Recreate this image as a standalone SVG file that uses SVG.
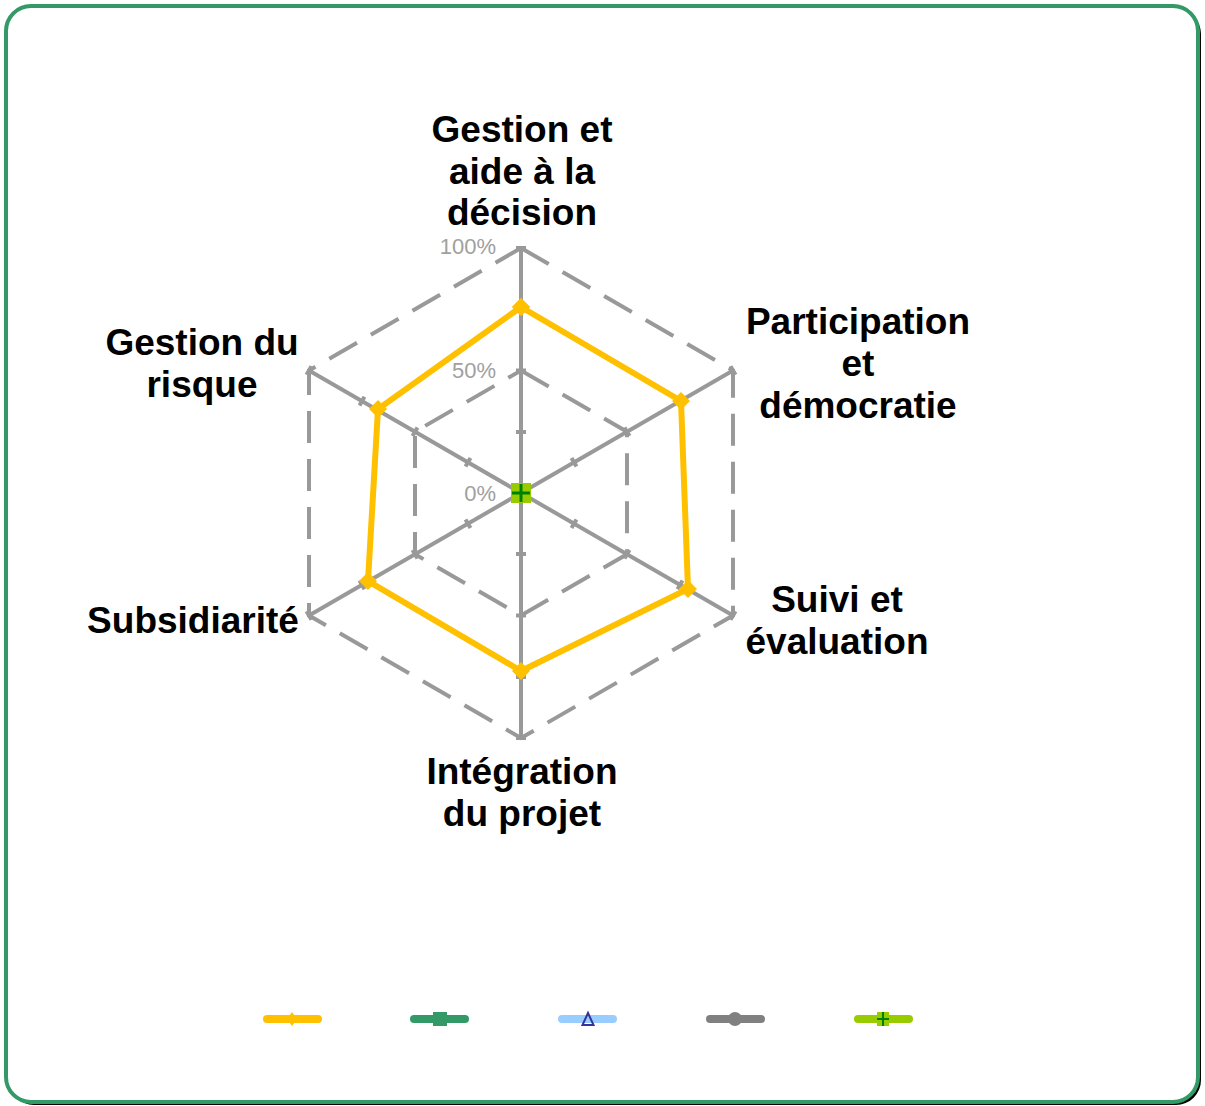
<svg xmlns="http://www.w3.org/2000/svg" width="1205" height="1106" viewBox="0 0 1205 1106">
<style>
.lbl{font-family:"Liberation Sans",Arial,sans-serif;font-weight:bold;font-size:37px;fill:#000;text-anchor:middle}
.pct{font-family:"Liberation Sans",Arial,sans-serif;font-size:22px;fill:#A0A0A0;text-anchor:end}
.ring{fill:none;stroke:#999999;stroke-width:4;stroke-dasharray:32 16}
.axis{stroke:#999999;stroke-width:4}
.tick{stroke:#999999;stroke-width:4}
.leg{stroke-width:8;stroke-linecap:round}
</style>
<defs>
<marker id="dia" viewBox="-9 -9 18 18" markerWidth="18" markerHeight="18" markerUnits="userSpaceOnUse">
<path d="M0,-9 L9,0 L0,9 L-9,0 Z" fill="#FFC000"/>
</marker>
</defs>
<rect x="9" y="9" width="1192" height="1096" rx="25" fill="#000"/>
<rect x="6" y="6" width="1192" height="1096" rx="25" fill="#fff" stroke="#339966" stroke-width="4"/>
<g id="grid">
<polygon class="ring" points="521,248 733,370.5 733,615.5 521,738 309,615.5 309,370.5"/>
<polygon class="ring" points="521,370.5 627,431.75 627,554.25 521,615.5 415,554.25 415,431.75"/>
<g class="axis">
<line x1="521" y1="493" x2="521" y2="248"/>
<line x1="521" y1="493" x2="733" y2="370.5"/>
<line x1="521" y1="493" x2="733" y2="615.5"/>
<line x1="521" y1="493" x2="521" y2="738"/>
<line x1="521" y1="493" x2="309" y2="615.5"/>
<line x1="521" y1="493" x2="309" y2="370.5"/>
</g>
<g class="tick">
<line x1="516" y1="432" x2="526" y2="432"/><line x1="516" y1="370.5" x2="526" y2="370.5"/><line x1="516" y1="309" x2="526" y2="309"/><line x1="516" y1="248" x2="526" y2="248"/>
<line x1="516" y1="554" x2="526" y2="554"/><line x1="516" y1="615.5" x2="526" y2="615.5"/><line x1="516" y1="677" x2="526" y2="677"/><line x1="516" y1="738" x2="526" y2="738"/>
<line x1="571.5" y1="458" x2="576.5" y2="466.6"/><line x1="624.5" y1="427.4" x2="629.5" y2="436"/><line x1="677.5" y1="396.8" x2="682.5" y2="405.4"/><line x1="730.5" y1="366.2" x2="735.5" y2="374.8"/>
<line x1="571.5" y1="528" x2="576.5" y2="519.4"/><line x1="624.5" y1="558.6" x2="629.5" y2="550"/><line x1="677.5" y1="589.2" x2="682.5" y2="580.6"/><line x1="730.5" y1="619.8" x2="735.5" y2="611.2"/>
<line x1="470.5" y1="458" x2="465.5" y2="466.6"/><line x1="417.5" y1="427.4" x2="412.5" y2="436"/><line x1="364.5" y1="396.8" x2="359.5" y2="405.4"/><line x1="311.5" y1="366.2" x2="306.5" y2="374.8"/>
<line x1="470.5" y1="528" x2="465.5" y2="519.4"/><line x1="417.5" y1="558.6" x2="412.5" y2="550"/><line x1="364.5" y1="589.2" x2="359.5" y2="580.6"/><line x1="311.5" y1="619.8" x2="306.5" y2="611.2"/>
</g>
<text class="pct" x="496" y="254">100%</text>
<text class="pct" x="496" y="378">50%</text>
<text class="pct" x="496" y="501">0%</text>
</g>
<g id="series-yellow">
<polygon points="521,307 681,401 688,589 521,671 368,581 378,409" fill="none" stroke="#FFC000" stroke-width="6" stroke-linejoin="miter" marker-start="url(#dia)" marker-mid="url(#dia)" marker-end="url(#dia)"/>
</g>
<g id="series-green-center">
<rect x="511" y="483" width="20" height="20" fill="#99CC00"/>
<path d="M512,493 H530 M521,484 V502" stroke="#008000" stroke-width="3"/>
</g>
<g id="label-top"><text class="lbl" x="522" y="142">Gestion et</text><text class="lbl" x="522" y="184">aide à la</text><text class="lbl" x="522" y="225">décision</text></g>
<g id="label-ur"><text class="lbl" x="858" y="334">Participation</text><text class="lbl" x="858" y="376">et</text><text class="lbl" x="858" y="418">démocratie</text></g>
<g id="label-lr"><text class="lbl" x="837" y="612">Suivi et</text><text class="lbl" x="837" y="654">évaluation</text></g>
<g id="label-bottom"><text class="lbl" x="522" y="784">Intégration</text><text class="lbl" x="522" y="826">du projet</text></g>
<g id="label-ll"><text class="lbl" x="193" y="633">Subsidiarité</text></g>
<g id="label-ul"><text class="lbl" x="202" y="355">Gestion du</text><text class="lbl" x="202" y="397">risque</text></g>
<g id="legend">
<line class="leg" x1="267" y1="1019" x2="318" y2="1019" stroke="#FFC000"/>
<path d="M292,1012 L297,1019 L292,1026 L287,1019 Z" fill="#FFC000"/>
<line class="leg" x1="414" y1="1019" x2="465" y2="1019" stroke="#339966"/>
<rect x="433" y="1012" width="14" height="14" fill="#339966"/>
<line class="leg" x1="562" y1="1019" x2="613" y2="1019" stroke="#99CCFF"/>
<path d="M588,1013 L593.5,1025 L582.5,1025 Z" fill="none" stroke="#333399" stroke-width="2"/>
<line class="leg" x1="710" y1="1019" x2="761" y2="1019" stroke="#808080"/>
<circle cx="735" cy="1019" r="7" fill="#808080"/>
<line class="leg" x1="858" y1="1019" x2="909" y2="1019" stroke="#99CC00"/>
<rect x="877" y="1012" width="12" height="14" fill="#99CC00"/>
<path d="M877,1019 H889 M883,1012 V1026" stroke="#008000" stroke-width="2"/>
</g>
</svg>
